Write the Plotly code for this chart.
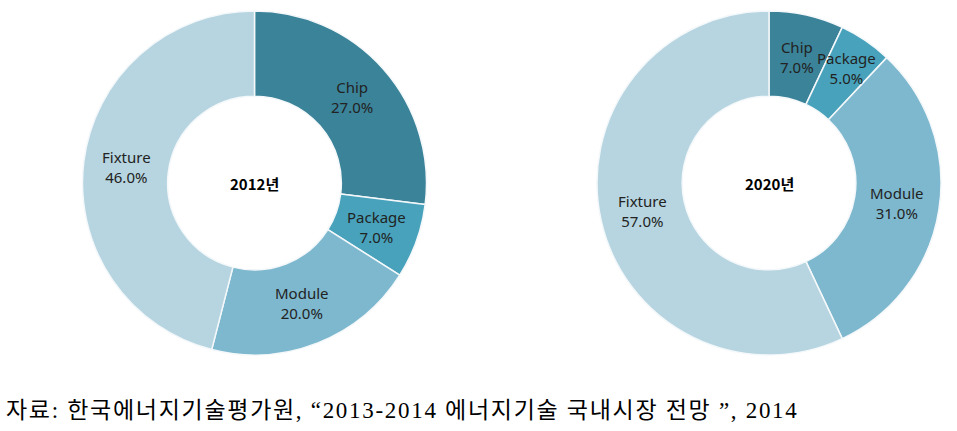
import math
import plotly.graph_objects as go

categories = ["Chip", "Package", "Module", "Fixture"]
values_2012 = [27.0, 7.0, 20.0, 46.0]
values_2020 = [7.0, 5.0, 31.0, 57.0]
titles = ["2012년", "2020년"]
colors = ["#3b8399", "#48a2bc", "#7db8ce", "#b6d5e0"]
caption = "자료: 한국에너지기술평가원, “2013-2014 에너지기술 국내시장 전망 ”, 2014"

W, H = 957, 431
R = 172
HOLE = 0.505
centers = [(254.5, 183), (769, 183)]

fig = go.Figure()
annotations = []
for (cx, cy), vals, t in zip(centers, [values_2012, values_2020], titles):
    fig.add_trace(go.Pie(
        labels=categories, values=vals, sort=False, direction="clockwise",
        rotation=0, hole=HOLE,
        marker=dict(colors=colors, line=dict(color="#f4f8fa", width=1.5)),
        textinfo="none",
        showlegend=False, hoverinfo="label+value",
        domain=dict(x=[(cx - R) / W, (cx + R) / W], y=[1 - (cy + R) / H, 1 - (cy - R) / H]),
    ))
    # slice labels at mid-angle, mid-ring radius (derived from the values)
    total = sum(vals)
    cum = 0.0
    rm = R * (1 + HOLE) / 2
    for lab, v in zip(categories, vals):
        frac = v / total
        mid = (cum + v / 2) / total * 2 * math.pi
        cum += v
        r_lab = rm if frac >= 0.06 else rm * 1.07
        px = cx + r_lab * math.sin(mid)
        py = cy - r_lab * math.cos(mid)
        annotations.append(dict(x=px / W, y=1 - py / H, xref="paper", yref="paper",
                                xanchor="center", yanchor="middle",
                                text=f"{lab}<br>{v:.1f}%", showarrow=False, align="center",
                                font=dict(family="Noto Sans, Open Sans, sans-serif", size=15, color="#222222")))
    annotations.append(dict(x=cx / W, y=1 - cy / H, xref="paper", yref="paper",
                            xanchor="center", yanchor="middle",
                            text="<b>" + t + "</b>", showarrow=False,
                            font=dict(family="Noto Sans CJK KR, Noto Sans, sans-serif", size=15, color="#000000")))

annotations.append(dict(x=4 / W, y=1 - 410 / H, xref="paper", yref="paper",
                        xanchor="left", yanchor="middle",
                        text='<span style="letter-spacing:1.7px">' + caption + "</span>", showarrow=False,
                        font=dict(family="Liberation Serif, Noto Sans CJK KR, serif", size=23, color="#000000")))

fig.update_layout(width=W, height=H, margin=dict(l=0, r=0, t=0, b=0),
                  paper_bgcolor="white", plot_bgcolor="white",
                  annotations=annotations)
fig.write_html("out.html")
